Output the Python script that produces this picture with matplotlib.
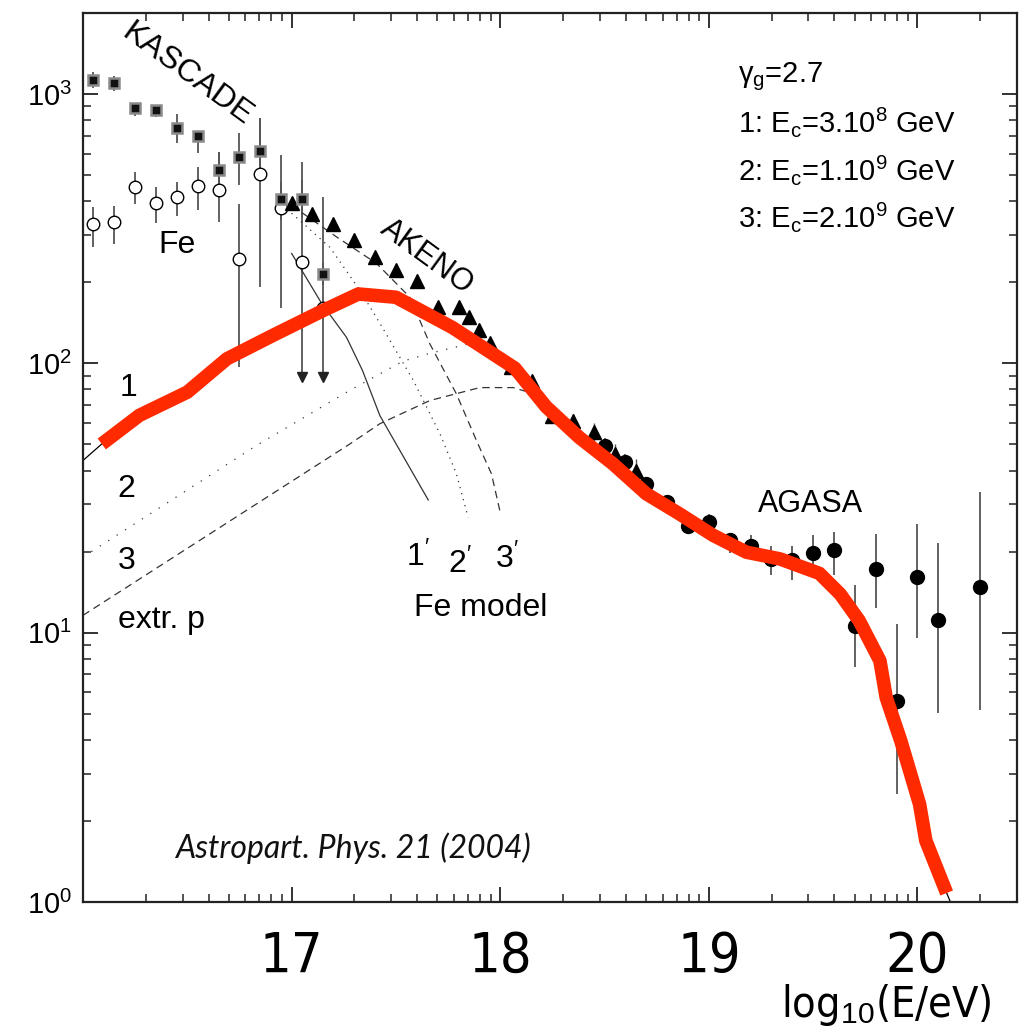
import os
import numpy as np
import matplotlib
matplotlib.use("Agg")
import matplotlib.pyplot as plt
from matplotlib import font_manager as fm
from matplotlib.ticker import FixedLocator, NullFormatter, FixedFormatter, LogLocator

plt.rcParams['font.family'] = ['Liberation Sans', 'DejaVu Sans']
plt.rcParams['mathtext.fontset'] = 'custom'
plt.rcParams['mathtext.rm'] = 'Liberation Sans'
plt.rcParams['mathtext.it'] = 'Liberation Sans:italic'
plt.rcParams['mathtext.bf'] = 'Liberation Sans:bold'

# ---------------- data (x = log10(E/eV)) ----------------
kascade_x = [16.05, 16.15, 16.25, 16.35, 16.45, 16.55, 16.65, 16.75, 16.85, 16.95, 17.05, 17.15]
kascade_y = [1127, 1096, 889, 873, 750, 698, 521, 585, 614, 406, 409, 215]
kascade_lo = [1050, 1030, 828, 822, 657, 604, 455, 459, 500, 340, 350, 195]
kascade_hi = [1210, 1170, 926, 903, 843, 728, 608, 716, 815, 470, 480, 235]

fe_x = [16.05, 16.15, 16.25, 16.35, 16.45, 16.55, 16.65, 16.75, 16.85, 16.95, 17.05, 17.15]
fe_y = [329, 335, 452, 394, 415, 455, 440, 245, 505, 376, 238, 160]
fe_lo = [270, 277, 390, 331, 352, 371, 334, 96.6, 192, 160, 89, 89]
fe_hi = [380, 384, 513, 451, 471, 535, 608, 390, 815, 593, 558, 414]
fe_limit_x = [17.05, 17.15]
fe_limit_y = [89, 89]

akeno_x = [17.0, 17.1, 17.2, 17.3, 17.4, 17.5, 17.6, 17.7, 17.8, 17.85, 17.9, 17.95,
           18.05, 18.15, 18.25, 18.35, 18.45, 18.55, 18.65]
akeno_y = [394, 360, 329, 287, 248, 222, 202, 162, 162, 149, 133, 119,
           97, 86, 64, 61, 55.6, 46, 40]
akeno_lo = [384, 351, 321, 280, 242, 217, 197, 158, 158, 145, 130, 116,
            92, 82, 60, 57, 51, 42, 36.5]
akeno_hi = [404, 369, 337, 294, 254, 227, 207, 166, 166, 153, 136, 122,
            102, 90, 68, 65, 60, 50, 44]

agasa_x = [18.5, 18.6, 18.7, 18.8, 18.9, 19.0, 19.1, 19.2, 19.3, 19.4, 19.5, 19.6,
           19.7, 19.8, 19.9, 20.0, 20.1, 20.3]
agasa_y = [49.5, 42.9, 35.7, 30.5, 25.0, 25.7, 22.0, 21.0, 18.8, 18.6, 19.7, 20.3,
           10.6, 17.3, 5.58, 16.1, 11.1, 14.8]
agasa_lo = [46, 40, 33.5, 28.5, 23.3, 24, 19.8, 19.5, 16.4, 15.7, 17.8, 16.4,
            7.48, 12.4, 2.52, 9.57, 5.05, 5.18]
agasa_hi = [53, 46, 38, 32.5, 26.8, 27.5, 23.1, 23.0, 21.0, 21.0, 23.0, 23.7,
            15.0, 23.3, 10.8, 25.4, 21.6, 33.4]

total_x = [16.09, 16.27, 16.50, 16.69, 16.91, 17.15, 17.32, 17.50, 17.77, 18.07, 18.22,
           18.38, 18.54, 18.70, 18.86, 19.02, 19.18, 19.34, 19.53, 19.63, 19.72, 19.82,
           19.85, 19.92, 20.01, 20.04, 20.14]
total_y = [50.2, 64.1, 78.2, 104, 127, 157, 181, 176, 136, 96, 69,
           53, 42.4, 32.8, 27.6, 23, 19.9, 18.8, 16.6, 13.9, 11.1, 7.87,
           5.75, 3.97, 2.31, 1.69, 1.08]

model_x = [16.0, 16.09, 16.27, 16.50, 16.69, 16.91, 17.15, 17.32, 17.50, 17.77, 18.07, 18.22,
           18.38, 18.54, 18.70, 18.86, 19.02, 19.18, 19.34, 19.53, 19.60, 19.69, 19.76, 19.82,
           19.85, 19.92, 20.01, 20.04, 20.14, 20.17]
model_y = [43.6, 50.2, 64.1, 78.2, 104, 127, 157, 181, 176, 136, 96, 69,
           53, 42.4, 32.8, 27.6, 23, 19.9, 18.8, 16.6, 15.6, 12.8, 10.8, 8.3,
           5.9, 4.0, 2.3, 1.7, 1.08, 0.95]

fe1_x = [17.00, 17.144, 17.263, 17.34, 17.423, 17.655]
fe1_y = [256, 167, 125, 94, 64, 31.1]
fe2_x = [17.00, 17.183, 17.327, 17.423, 17.583, 17.711, 17.79, 17.846]
fe2_y = [361, 270, 187, 141, 86.5, 54.8, 38.9, 26.8]
fe3_x = [17.00, 17.215, 17.407, 17.567, 17.663, 17.79, 17.886, 17.958, 17.998]
fe3_y = [386, 295, 235, 176, 118, 77, 51.7, 38.9, 28.4]

p2_x = [16.0, 16.832, 17.279, 17.535, 17.663, 17.886, 18.05]
p2_y = [19.1, 49.6, 79.4, 102, 109, 120, 100]
p3_x = [16.0, 17.279, 17.423, 17.663, 17.902, 18.062, 18.14]
p3_y = [11.6, 50.2, 59.7, 72.8, 81.3, 81.3, 78]

xtick_vals = [17, 18, 19, 20]
xtick_labels = ['17', '18', '19', '20']
ytick_vals = [1, 10, 100, 1000]
ytick_labels = ['10$^{0}$', '10$^{1}$', '10$^{2}$', '10$^{3}$']


# ---------------- narrow font for the x axis, if one is installed ----------------
def find_narrow():
    prefs = ['LiberationSansNarrow-Regular', 'OpenSans_Condensed-Regular', 'OpenSans-CondensedRegular',
             'DejaVuSansCondensed.', 'Lato-Regular']
    files = [f.fname for f in fm.fontManager.ttflist]
    for p in prefs:
        for fn in files:
            if p in os.path.basename(fn):
                return fn, ('Lato' not in p)
    return None, False


narrow_file, is_narrow = find_narrow()
if narrow_file:
    tick_fp = fm.FontProperties(fname=narrow_file, size=40 if is_narrow else 36)
    xlab_fp = fm.FontProperties(fname=narrow_file, size=31 if is_narrow else 29)
else:
    tick_fp = fm.FontProperties(family='DejaVu Sans', size=34)
    xlab_fp = fm.FontProperties(family='DejaVu Sans', size=27)

# ---------------- figure ----------------
fig = plt.figure(figsize=(10.30, 10.29), dpi=100)
ax = fig.add_axes([83 / 1030, (1029 - 902) / 1029, 934 / 1030, 889 / 1029])
ax.set_yscale('log')
ax.set_xlim(16.0, np.log10(3e20))
ax.set_ylim(1, 2000)

err_c = '#555555'


def errs(y, lo, hi):
    y = np.array(y, float)
    return [y - np.array(lo, float), np.array(hi, float) - y]


# error bars
ax.errorbar(fe_x, fe_y, yerr=errs(fe_y, fe_lo, fe_hi), fmt='none', ecolor=err_c, elinewidth=1.3, zorder=2)
ax.errorbar(kascade_x, kascade_y, yerr=errs(kascade_y, kascade_lo, kascade_hi), fmt='none',
            ecolor=err_c, elinewidth=1.3, zorder=2)
ax.errorbar(akeno_x, akeno_y, yerr=errs(akeno_y, akeno_lo, akeno_hi), fmt='none', ecolor=err_c,
            elinewidth=1.0, zorder=2)
ax.errorbar(agasa_x, agasa_y, yerr=errs(agasa_y, agasa_lo, agasa_hi), fmt='none', ecolor=err_c,
            elinewidth=1.3, zorder=2)

# model curves (thin)
ax.plot(model_x, model_y, color='black', lw=0.9, zorder=2.5)
ax.plot(fe1_x, fe1_y, color='#333333', lw=0.9, zorder=2.5)
ax.plot(fe2_x, fe2_y, color='#333333', lw=0.9, linestyle=(0, (1, 4)), zorder=2.5)
ax.plot(fe3_x, fe3_y, color='#333333', lw=0.9, linestyle=(0, (6, 4)), zorder=2.5)
ax.plot(p2_x, p2_y, color='#333333', lw=0.9, linestyle=(0, (1, 7)), zorder=2.5)
ax.plot(p3_x, p3_y, color='#333333', lw=0.9, linestyle=(0, (6, 4)), zorder=2.5)

# markers
ax.plot(fe_x, fe_y, 'o', mfc='white', mec='black', mew=1.0, ms=9, zorder=3)
ax.plot(fe_limit_x, fe_limit_y, 'v', color='#222222', ms=7, zorder=3)
ax.plot(kascade_x, kascade_y, 's', mfc='#111111', mec='#8a8a8a', mew=1.8, ms=7.5, zorder=3.2)
ax.plot(akeno_x, akeno_y, '^', color='black', ms=10, zorder=3)
ax.plot(agasa_x, agasa_y, 'o', color='black', ms=10, zorder=3)

# total (red)
ax.plot(total_x, total_y, color='#ff2a00', lw=9.8, solid_capstyle='butt', solid_joinstyle='round',
        zorder=5)

# ticks
ax.xaxis.set_major_locator(FixedLocator(xtick_vals))
ax.xaxis.set_major_formatter(FixedFormatter(xtick_labels))
minor_x = [n + np.log10(k) for n in range(16, 21) for k in range(2, 10) if n + np.log10(k) < 20.47]
ax.xaxis.set_minor_locator(FixedLocator(minor_x))
ax.xaxis.set_minor_formatter(NullFormatter())
ax.yaxis.set_major_locator(FixedLocator(ytick_vals))
ax.yaxis.set_major_formatter(FixedFormatter(ytick_labels))
ax.yaxis.set_minor_locator(LogLocator(base=10, subs=np.arange(2, 10)))
ax.yaxis.set_minor_formatter(NullFormatter())

ax.tick_params(which='both', direction='in', top=True, right=True, color='#222222')
ax.tick_params(which='major', length=11, width=1.3)
ax.tick_params(which='minor', length=5.5, width=1.1)
ax.tick_params(axis='y', which='major', labelsize=21, pad=8)
ax.tick_params(axis='x', which='major', pad=20)
for lab in ax.get_xticklabels():
    lab.set_fontproperties(tick_fp)
for sp in ax.spines.values():
    sp.set_linewidth(1.6)
    sp.set_color('#222222')

# labels in the plot
ax.text(16.50, 1177, 'KASCADE', fontsize=23, rotation=-36, ha='center', va='center',
        rotation_mode='anchor', zorder=6)
ax.text(17.646, 248, 'AKENO', fontsize=22, rotation=-36, ha='center', va='center',
        rotation_mode='anchor', zorder=6)
ax.text(16.45, 275, 'Fe', fontsize=23, ha='center', va='center', zorder=6)
ax.text(16.217, 81.3, '1', fontsize=23, ha='center', va='center', zorder=6)
ax.text(16.209, 34.2, '2', fontsize=23, ha='center', va='center', zorder=6)
ax.text(16.209, 18.5, '3', fontsize=23, ha='center', va='center', zorder=6)
ax.text(16.168, 11.1, 'extr. p', fontsize=23, ha='left', va='center', zorder=6)
ax.text(17.607, 19.1, '1$^{\\prime}$', fontsize=23, ha='center', va='center', zorder=6)
ax.text(17.806, 18.0, '2$^{\\prime}$', fontsize=23, ha='center', va='center', zorder=6)
ax.text(18.03, 18.8, '3$^{\\prime}$', fontsize=23, ha='center', va='center', zorder=6)
ax.text(17.905, 12.3, 'Fe model', fontsize=23, ha='center', va='center', zorder=6)
ax.text(19.487, 30.1, 'AGASA', fontsize=22, ha='center', va='center', zorder=6)

ax.text(0.7016, 0.928, 'γ$_\\mathrm{g}$=2.7', transform=ax.transAxes, fontsize=21, ha='left', va='center')
ax.text(0.7016, 0.8778, '1: E$_\\mathrm{c}$=3.10$^{8}$ GeV', transform=ax.transAxes, fontsize=21,
        ha='left', va='center')
ax.text(0.7016, 0.8234, '2: E$_\\mathrm{c}$=1.10$^{9}$ GeV', transform=ax.transAxes, fontsize=21,
        ha='left', va='center')
ax.text(0.7016, 0.7709, '3: E$_\\mathrm{c}$=2.10$^{9}$ GeV', transform=ax.transAxes, fontsize=21,
        ha='left', va='center')

ax.text(16.44, 1.46, 'Astropart. Phys. 21 (2004)', fontsize=23, style='italic',
        family=['Lato', 'DejaVu Sans'], ha='left', va='baseline', color='#111111', zorder=6)

fig.text(992 / 1030, 1 - 1005 / 1029, 'log$_{10}$(E/eV)', fontproperties=xlab_fp,
         ha='right', va='center')

fig.savefig('out.png', dpi=100, facecolor='white')
